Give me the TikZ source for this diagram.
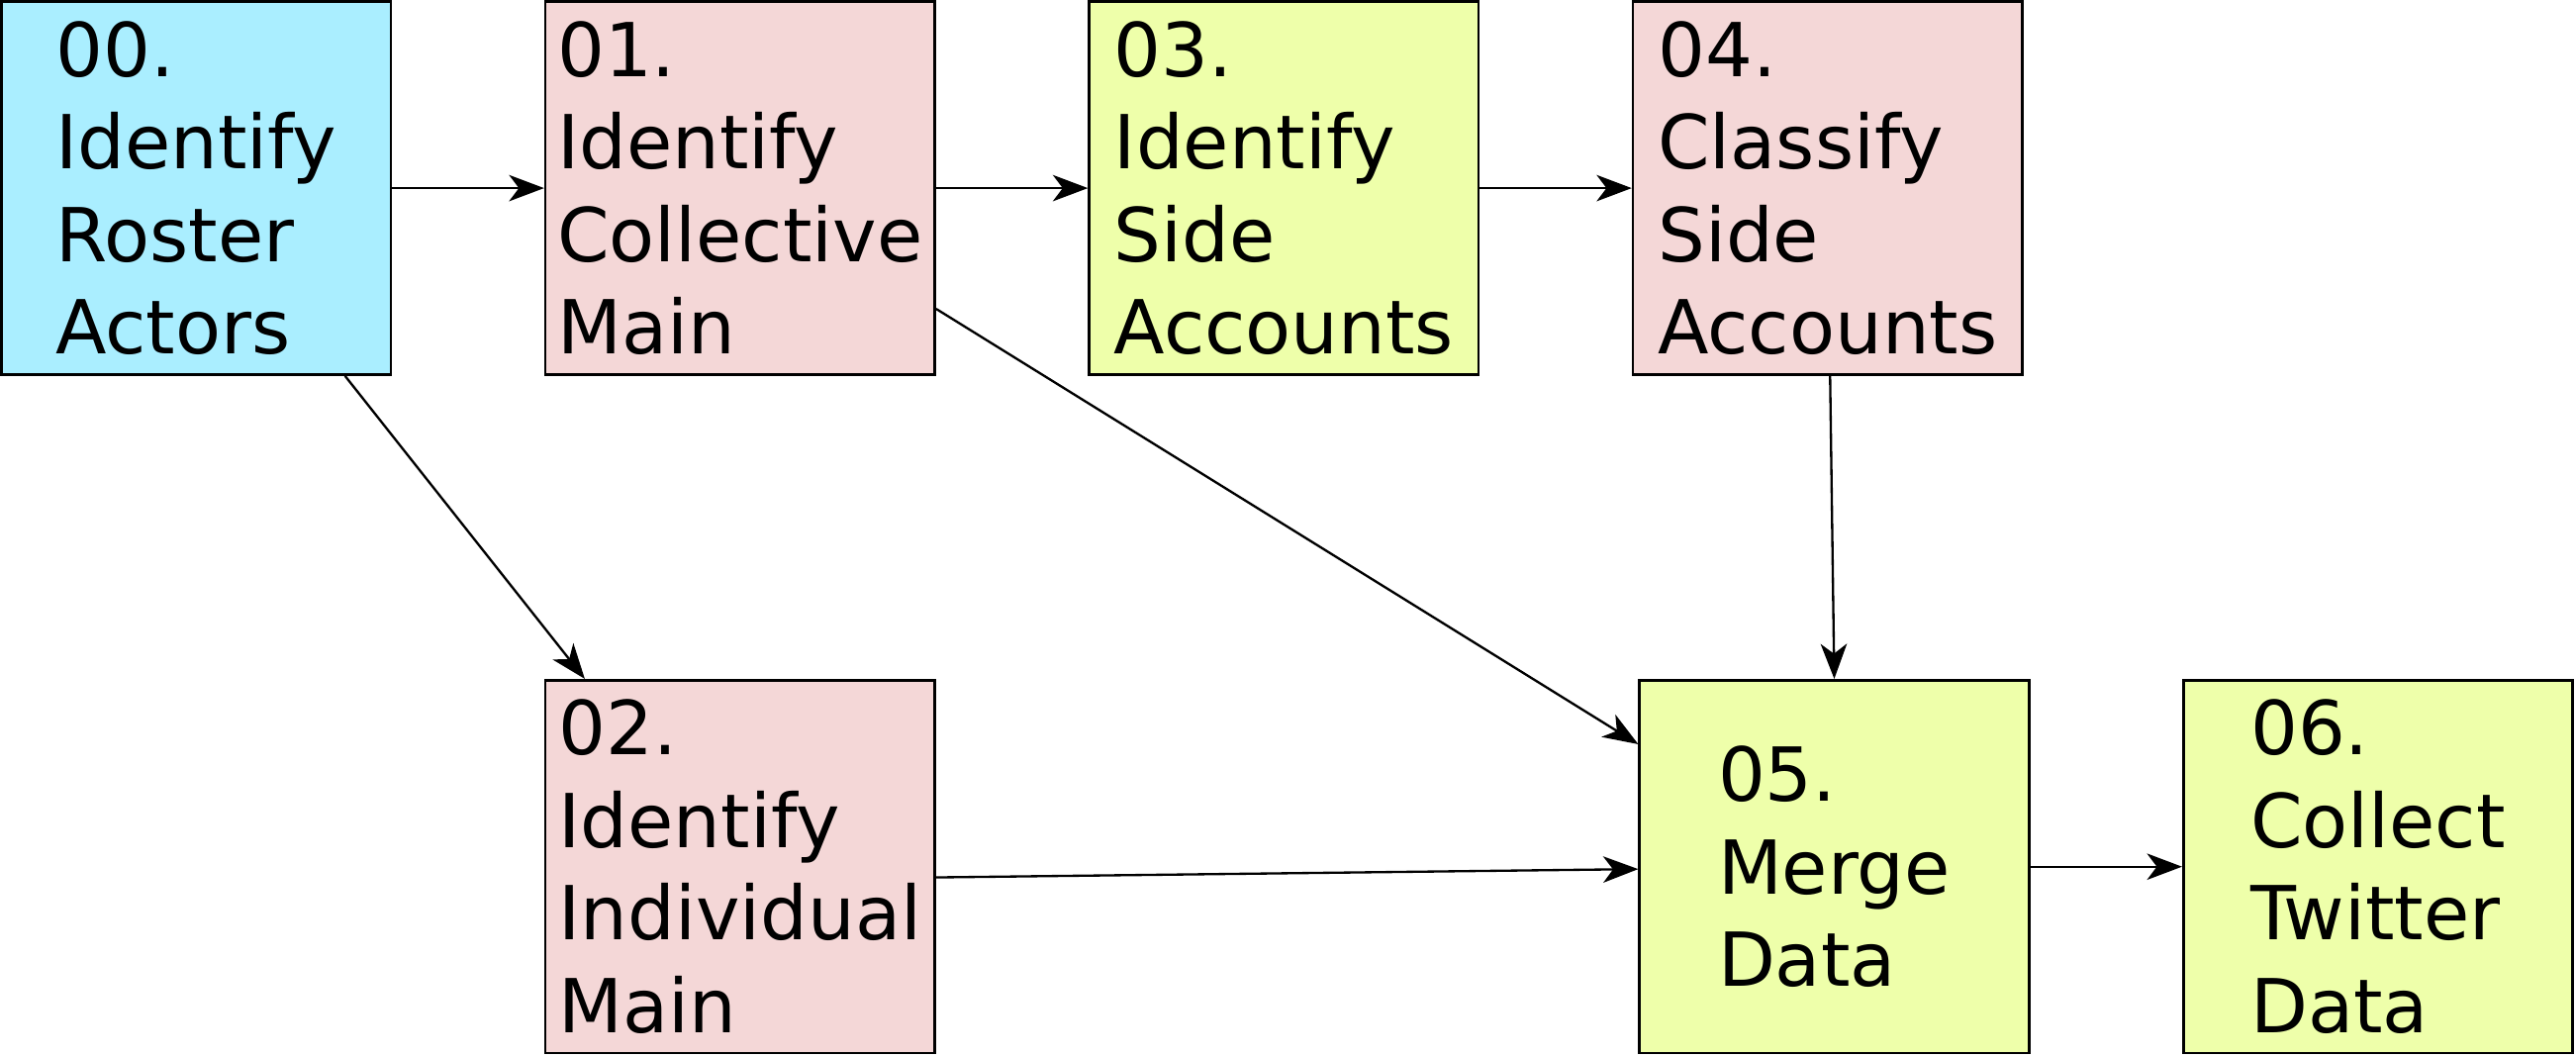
\documentclass[tikz,border=0pt]{standalone}
\usepackage{fontspec}
\setmainfont{DejaVu Sans}
\usetikzlibrary{arrows.meta}

\definecolor{cyanbox}{RGB}{170,238,255}
\definecolor{pinkbox}{RGB}{244,215,215}
\definecolor{limebox}{RGB}{238,255,170}

\tikzset{
  stepnode/.style={draw, line width=1.2pt, rectangle, inner sep=0pt,
    minimum width=177.75pt, minimum height=170.25pt, align=left,
    font=\fontsize{34}{42.3}\selectfont},
  flow/.style={line width=1.05pt, -{Stealth[length=16pt, width=12pt, inset=4.5pt]}}
}

\begin{document}
\begin{tikzpicture}[x=0.75pt,y=0.75pt,yscale=-1,xscale=1]
\useasboundingbox (0,0) rectangle (1568,643);

%Shape: Rectangle [roster]
\node [stepnode, fill=cyanbox] (roster) at (119.5,114.5) {00.\\Identify\\Roster\\Actors};
%Shape: Rectangle [collmain]
\node [stepnode, fill=pinkbox] (collmain) at (450.5,114.5) {01.\\Identify\\Collective\\Main};
%Shape: Rectangle [sideid]
\node [stepnode, fill=limebox] (sideid) at (781.5,114.5) {03.\\Identify\\Side\\Accounts};
%Shape: Rectangle [sideclass]
\node [stepnode, fill=pinkbox] (sideclass) at (1112.5,114.5) {04.\\Classify\\Side\\Accounts};
%Shape: Rectangle [indmain]
\node [stepnode, fill=pinkbox] (indmain) at (450.5,527.5) {02.\\Identify\\Individual\\Main};
%Shape: Rectangle [merge]
\node [stepnode, fill=limebox] (merge) at (1116.5,527.5) {05.\\Merge\\Data};
%Shape: Rectangle [collect]
\node [stepnode, fill=limebox] (collect) at (1447.5,527.5) {06.\\Collect\\Twitter\\Data};

%Straight Lines
\draw [flow] (roster) -- (collmain);
\draw [flow] (collmain) -- (sideid);
\draw [flow] (sideid) -- (sideclass);
\draw [flow] ([xshift=67.9pt]roster.south) -- ([xshift=-70.9pt]indmain.north);
\draw [flow] ([yshift=55.1pt]collmain.east) -- ([yshift=-55.9pt]merge.west);
\draw [flow] ([xshift=1.1pt]sideclass.south) -- (merge.north);
\draw [flow] ([yshift=4.9pt]indmain.east) -- ([yshift=1.1pt]merge.west);
\draw [flow] (merge) -- (collect);

\end{tikzpicture}
\end{document}
